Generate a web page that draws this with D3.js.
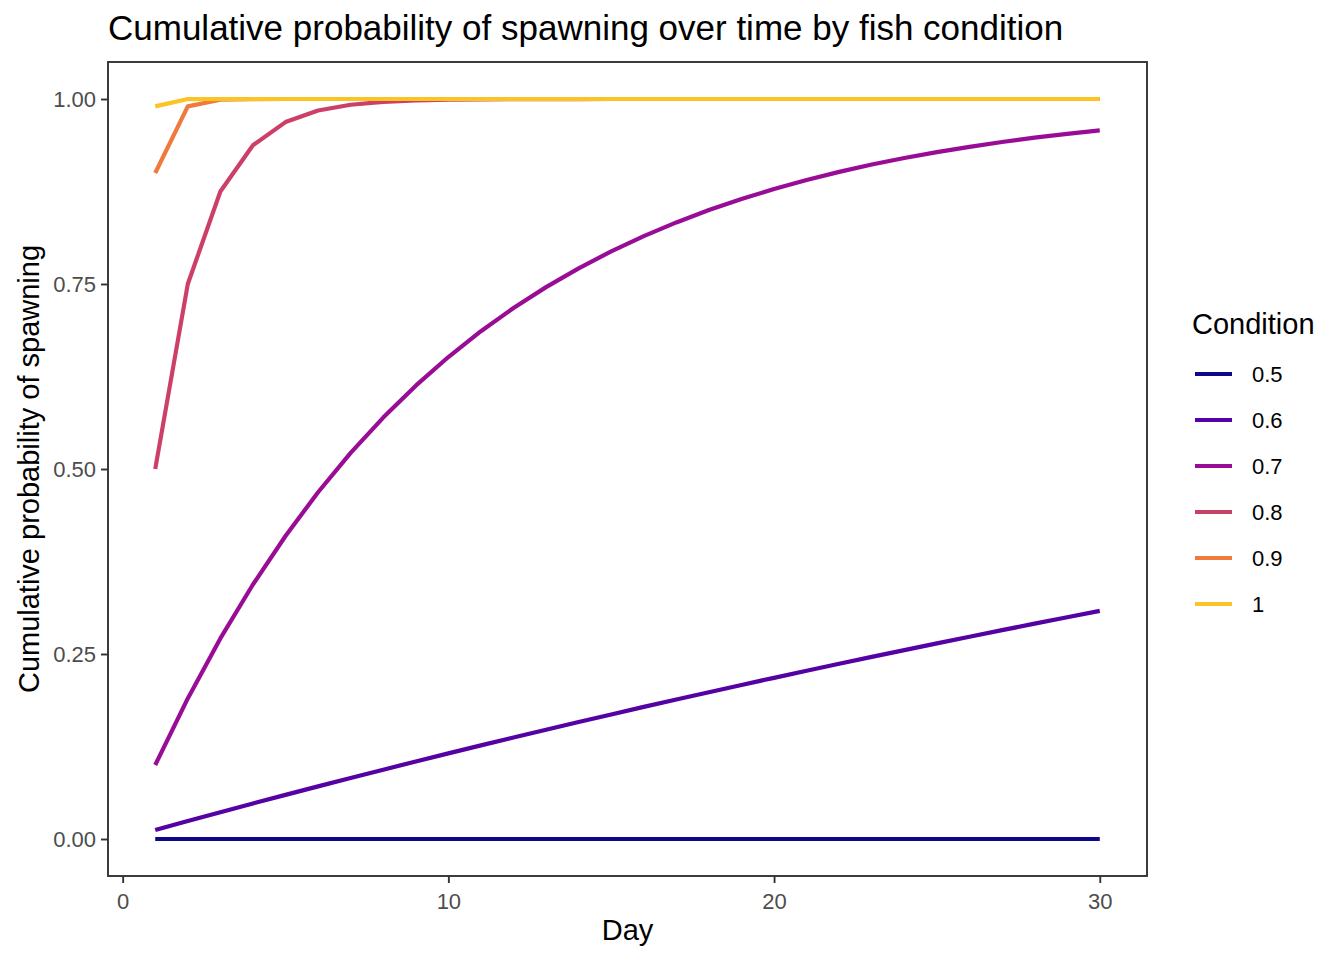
<!DOCTYPE html>
<html lang="en">
<head>
<meta charset="utf-8">
<script src="https://cdn.jsdelivr.net/npm/d3@7"></script>
<style>
  body { margin: 0; background: #fff; }
  text { font-family: "Liberation Sans", Arial, Helvetica, sans-serif; }
</style>
</head>
<body>
<svg id="chart" width="1344" height="960"></svg>
<script>
// days observed
var days = [1, 2, 3, 4, 5, 6, 7, 8, 9, 10, 11, 12, 13, 14, 15,
            16, 17, 18, 19, 20, 21, 22, 23, 24, 25, 26, 27, 28, 29, 30];

var conditions = ["0.5", "0.6", "0.7", "0.8", "0.9", "1"];
var conditionColours = ["#0D0887", "#5402A3", "#990C96", "#CC4068", "#F07A3E", "#FAC424"];

// cumulative probability, one array per condition
var cond05 = [0, 0, 0, 0, 0, 0, 0, 0, 0, 0, 0, 0, 0, 0, 0,
              0, 0, 0, 0, 0, 0, 0, 0, 0, 0, 0, 0, 0, 0, 0];
var cond06 = [0.0122, 0.0243, 0.0362, 0.0480, 0.0596, 0.0711, 0.0825, 0.0937, 0.1048, 0.1157,
              0.1265, 0.1371, 0.1477, 0.1581, 0.1683, 0.1785, 0.1885, 0.1984, 0.2082, 0.2178,
              0.2274, 0.2368, 0.2461, 0.2553, 0.2644, 0.2734, 0.2822, 0.2910, 0.2996, 0.3082];
var cond07 = [0.1, 0.19, 0.271, 0.3439, 0.4095, 0.4686, 0.5217, 0.5695, 0.6126, 0.6513,
              0.6862, 0.7176, 0.7458, 0.7712, 0.7941, 0.8147, 0.8332, 0.8499, 0.8649, 0.8784,
              0.8906, 0.9015, 0.9114, 0.9202, 0.9282, 0.9354, 0.9419, 0.9477, 0.9529, 0.9576];
var cond08 = [0.5, 0.75, 0.875, 0.9375, 0.9688, 0.9844, 0.9922, 0.9961, 0.9980, 0.9990,
              0.9995, 0.9998, 0.9999, 0.9999, 1, 1, 1, 1, 1, 1,
              1, 1, 1, 1, 1, 1, 1, 1, 1, 1];
var cond09 = [0.9, 0.99, 0.999, 0.9999, 1, 1, 1, 1, 1, 1,
              1, 1, 1, 1, 1, 1, 1, 1, 1, 1,
              1, 1, 1, 1, 1, 1, 1, 1, 1, 1];
var cond10 = [0.99, 0.9999, 1, 1, 1, 1, 1, 1, 1, 1,
              1, 1, 1, 1, 1, 1, 1, 1, 1, 1,
              1, 1, 1, 1, 1, 1, 1, 1, 1, 1];

var seriesValues = [cond05, cond06, cond07, cond08, cond09, cond10];

var xTicks = [0, 10, 20, 30];
var yTicks = [0, 0.25, 0.5, 0.75, 1];

var svg = d3.select("#chart");

var panel = {left: 108, right: 1147, top: 62, bottom: 876};

// ggplot-style 5% expansion
var x = d3.scaleLinear()
    .domain([1 - 29 * 0.05, 30 + 29 * 0.05])
    .range([panel.left, panel.right]);

var y = d3.scaleLinear()
    .domain([-0.05, 1.05])
    .range([panel.bottom, panel.top]);

var colour = d3.scaleOrdinal()
    .domain(conditions)
    .range(conditionColours);

var line = d3.line()
    .x(function(d) { return x(d.day); })
    .y(function(d) { return y(d.p); });

var series = conditions.map(function(c, i) {
  return {
    condition: c,
    points: days.map(function(d, j) { return {day: d, p: seriesValues[i][j]}; })
  };
});

// lines
svg.append("g")
  .selectAll("path")
  .data(series)
  .join("path")
    .attr("d", function(d) { return line(d.points); })
    .attr("fill", "none")
    .attr("stroke", function(d) { return colour(d.condition); })
    .attr("stroke-width", 4.2)
    .attr("stroke-linejoin", "round");

// panel border
svg.append("rect")
    .attr("x", panel.left)
    .attr("y", panel.top)
    .attr("width", panel.right - panel.left)
    .attr("height", panel.bottom - panel.top)
    .attr("fill", "none")
    .attr("stroke", "#333333")
    .attr("stroke-width", 1.9);

// axes
var xAxis = svg.append("g")
    .attr("transform", "translate(0," + panel.bottom + ")")
    .call(d3.axisBottom(x).tickValues(xTicks).tickSize(7).tickPadding(5).tickFormat(d3.format("d")));

var yAxis = svg.append("g")
    .attr("transform", "translate(" + panel.left + ",0)")
    .call(d3.axisLeft(y).tickValues(yTicks).tickSize(7).tickPadding(5).tickFormat(d3.format(".2f")));

[xAxis, yAxis].forEach(function(ax) {
  ax.select(".domain").remove();
  ax.selectAll(".tick line").attr("stroke", "#333333").attr("stroke-width", 1.9);
  ax.selectAll(".tick text")
      .attr("fill", "#4d4d4d")
      .style("font-size", "22px")
      .style("font-family", "'Liberation Sans', Arial, sans-serif");
});
xAxis.selectAll(".tick text").attr("dy", "0.95em");
yAxis.selectAll(".tick text").attr("dy", "0.36em");

// titles
svg.append("text")
    .attr("x", 108)
    .attr("y", 40)
    .style("font-size", "35px")
    .attr("fill", "#000")
    .text("Cumulative probability of spawning over time by fish condition");

svg.append("text")
    .attr("x", (panel.left + panel.right) / 2)
    .attr("y", 940)
    .attr("text-anchor", "middle")
    .style("font-size", "29px")
    .text("Day");

svg.append("text")
    .attr("transform", "translate(39," + ((panel.top + panel.bottom) / 2) + ") rotate(-90)")
    .attr("text-anchor", "middle")
    .style("font-size", "29px")
    .text("Cumulative probability of spawning");

// legend
var legend = svg.append("g").attr("transform", "translate(1192,0)");

legend.append("text")
    .attr("x", 0)
    .attr("y", 334)
    .style("font-size", "29px")
    .text("Condition");

var keys = legend.selectAll("g.key")
  .data(conditions)
  .join("g")
    .attr("class", "key")
    .attr("transform", function(d, i) { return "translate(0," + (374 + i * 46) + ")"; });

keys.append("line")
    .attr("x1", 3).attr("x2", 40)
    .attr("stroke", function(d) { return colour(d); })
    .attr("stroke-width", 4.2);

keys.append("text")
    .attr("x", 60)
    .attr("dy", "0.36em")
    .style("font-size", "22px")
    .text(function(d) { return d; });
</script>
</body>
</html>
